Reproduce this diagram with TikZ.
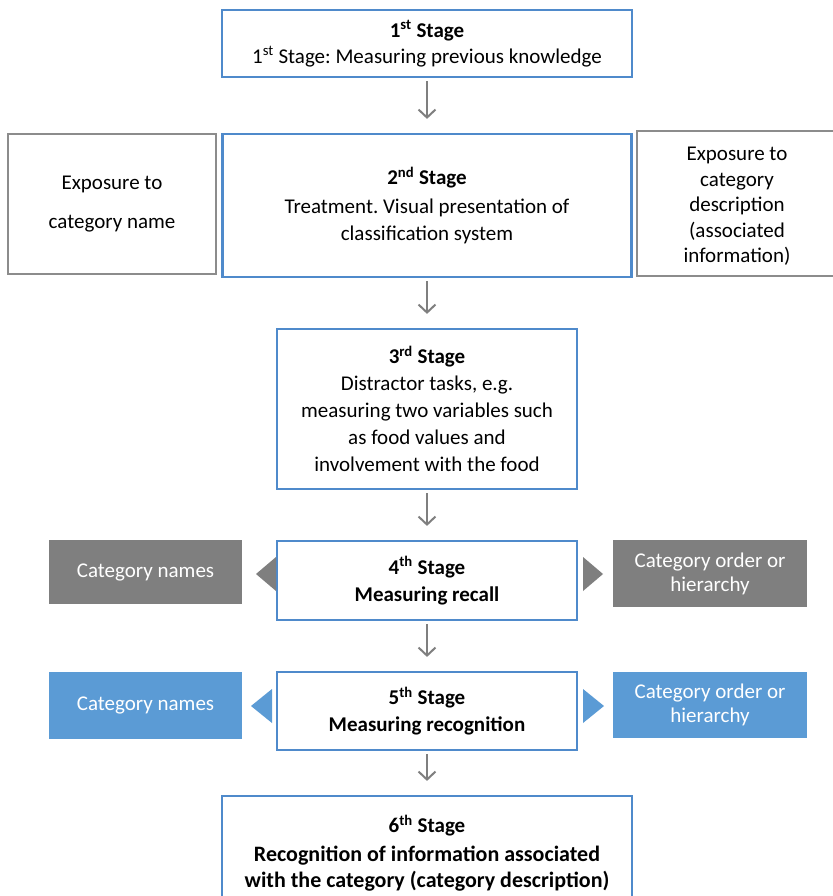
\documentclass[tikz,border=0pt]{standalone}
\usepackage{fontspec}
\setmainfont{Carlito}
\usetikzlibrary{arrows.meta}
\definecolor{stageblue}{HTML}{4F8ACB}
\definecolor{fillblue}{HTML}{5B9BD5}
\definecolor{darkgray}{HTML}{7F7F7F}
\definecolor{arrowgray}{HTML}{7F7F7F}
\definecolor{framegray}{HTML}{8C8C8C}
\tikzset{
  base/.style={inner sep=0pt, align=center, font=\frenchspacing\fontsize{21pt}{27pt}\selectfont, text=black},
  stagebox/.style={base, draw=stageblue, line width=2.2pt, fill=white},
  expbox/.style={base, draw=framegray, line width=1.2pt, fill=white},
  graybox/.style={base, fill=darkgray, text=white},
  bluebox/.style={base, fill=fillblue, text=white},
  flow/.style={draw=arrowgray, line width=2pt, -{Straight Barb[length=8pt,width=17pt,line width=2pt]}, shorten <=3pt, shorten >=14pt},
}
\newcommand{\sups}[1]{\textsuperscript{#1}}
\newcommand{\bigb}[1]{{\fontsize{22pt}{28pt}\selectfont\textbf{#1}}}
\begin{document}
\begin{tikzpicture}[x=1pt,y=-1pt]
\useasboundingbox[fill=white] (0,0) rectangle (832,896);
% stage boxes
\node[stagebox, minimum width=410pt, minimum height=67pt] (b1) at (427,43.5)
  {\textbf{1\sups{st} Stage}\\[-1pt]1\sups{st} Stage: Measuring previous knowledge};
\node[stagebox, minimum width=409pt, minimum height=143pt] (b2) at (427,205.5)
  {\textbf{2\sups{nd} Stage}\\[2pt]Treatment. Visual presentation of\\classification system};
\node[stagebox, minimum width=300pt, minimum height=160pt] (b3) at (427,409)
  {\textbf{3\sups{rd} Stage}\\Distractor tasks, e.g.\\measuring two variables such\\as food values and\\involvement with the food};
\node[stagebox, minimum width=300pt, minimum height=79pt] (b4) at (427,580.5)
  {\textbf{4\sups{th} Stage}\\\textbf{Measuring recall}};
\node[stagebox, minimum width=300pt, minimum height=78pt] (b5) at (427,711)
  {\textbf{5\sups{th} Stage}\\\textbf{Measuring recognition}};
\node[stagebox, minimum width=410pt, minimum height=114pt] (b6) at (427,853)
  {\textbf{6\sups{th} Stage}\\[2pt]\bigb{Recognition of information associated}\\[-1pt]\bigb{with the category (category description)}};
% side boxes, stage 2
\node[expbox, minimum width=208pt, minimum height=140pt] (el) at (112,204)
  {Exposure to\\[12pt]category name};
\node[expbox, minimum width=200pt, minimum height=145pt,
  label={[base, yshift=-3pt]center:{Exposure to\\[-1.5pt]category\\[-1.5pt]description\\[-1.5pt](associated\\[-1.5pt]information)}}] (er) at (737,203.5) {};
% side boxes, stage 4
\node[graybox, minimum width=193pt, minimum height=64pt] (g1) at (145.5,572) {Category names};
\node[graybox, minimum width=194pt, minimum height=67pt] (g2) at (710,573.5) {Category order or\\[-3pt]hierarchy};
% side boxes, stage 5
\node[bluebox, minimum width=193pt, minimum height=67pt] (c1) at (145.5,705.5) {Category names};
\node[bluebox, minimum width=194pt, minimum height=66pt] (c2) at (710,705) {Category order or\\[-3pt]hierarchy};
% pointer triangles
\fill[darkgray] (276,557) -- (256,574) -- (276,591) -- cycle;
\fill[darkgray] (583,557) -- (603,574) -- (583,591) -- cycle;
\fill[fillblue] (272,689) -- (251,706) -- (272,723) -- cycle;
\fill[fillblue] (583,689) -- (604,706) -- (583,723) -- cycle;
% flow arrows
\draw[flow] (b1.south) -- (b2.north);
\draw[flow] (b2.south) -- (b3.north);
\draw[flow] (b3.south) -- (b4.north);
\draw[flow] (b4.south) -- (b5.north);
\draw[flow] (b5.south) -- (b6.north);
\end{tikzpicture}
\end{document}
